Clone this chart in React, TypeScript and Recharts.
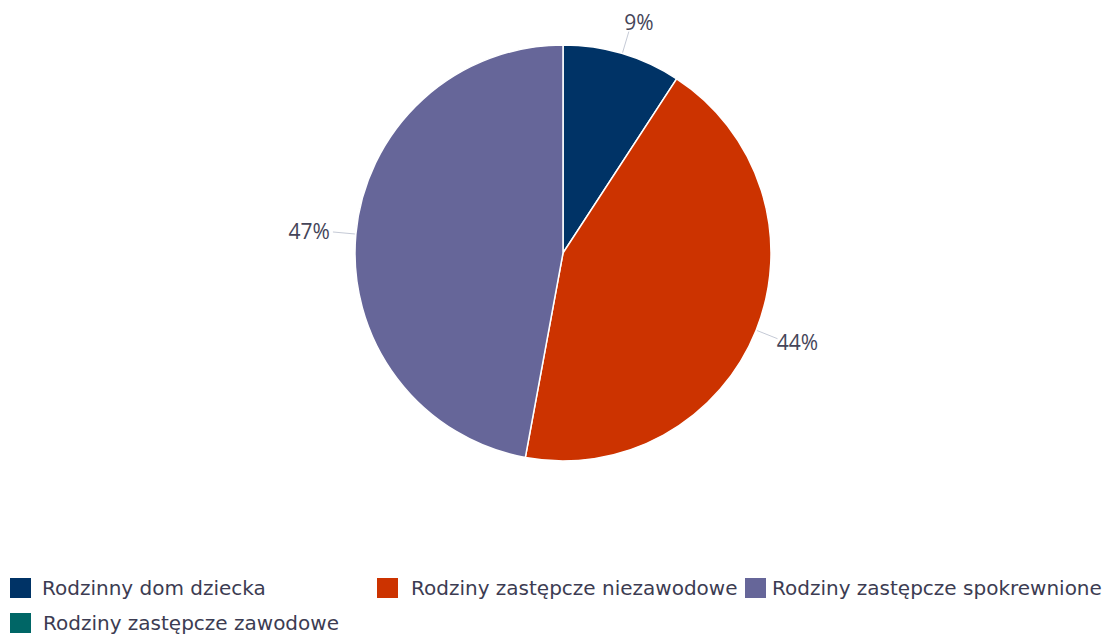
import React from "react";
import { PieChart, Pie, Cell, Legend } from "recharts";

const categories = [
  "Rodzinny dom dziecka",
  "Rodziny zastępcze niezawodowe",
  "Rodziny zastępcze spokrewnione",
  "Rodziny zastępcze zawodowe",
];
const values = [9.2, 43.7, 47.1, 0];
const colors = ["#003366", "#cc3300", "#666699", "#006666"];

const data = categories.map((name, i) => ({ name, value: values[i] }));

const RADIAN = Math.PI / 180;

const legendLayout = [
  { left: 10, top: 0, textLeft: 42 },
  { left: 377, top: 0, textLeft: 411 },
  { left: 745, top: 0, textLeft: 772 },
  { left: 10, top: 35, textLeft: 43 },
];

const renderLabel = (props: any) => {
  const { cx, cy, midAngle, outerRadius, percent, value } = props;
  if (!value) return null;
  const sx = Math.cos(-midAngle * RADIAN);
  const sy = Math.sin(-midAngle * RADIAN);
  const x1 = cx + (outerRadius + 1) * sx;
  const y1 = cy + (outerRadius + 1) * sy;
  const x2 = cx + (outerRadius + 23) * sx;
  const y2 = cy + (outerRadius + 23) * sy;
  const tx = x2 + (sx > 0 ? 0 : -3) - 5 * sy * sy;
  const ty = y2 + sy * 10;
  return (
    <g>
      <path d={`M${x1},${y1}L${x2},${y2}`} stroke="#c5cad6" strokeWidth={1} fill="none" />
      <text
        x={tx}
        y={ty}
        textAnchor={sx > 0 ? "start" : "end"}
        dominantBaseline="central"
        fill="#454559"
        fontSize={21}
        fontFamily="'Open Sans', sans-serif"
      >
        {`${Math.round(percent * 100)}%`}
      </text>
    </g>
  );
};

const renderLegend = () => (
  <div
    style={{
      position: "relative",
      width: 1104,
      height: 56,
      fontFamily: "'DejaVu Sans', sans-serif",
      fontSize: 20,
      color: "#3c3c52",
    }}
  >
    {categories.map((c, i) => {
      const l = legendLayout[i];
      return (
        <React.Fragment key={c}>
          <span
            style={{
              position: "absolute",
              left: l.left,
              top: l.top,
              width: 21,
              height: 20,
              background: colors[i],
            }}
          />
          <span
            style={{
              position: "absolute",
              left: l.textLeft,
              top: l.top,
              height: 20,
              lineHeight: "20px",
              whiteSpace: "nowrap",
            }}
          >
            {c}
          </span>
        </React.Fragment>
      );
    })}
  </div>
);

export default function App() {
  return (
    <div
      style={{
        position: "fixed",
        left: 0,
        top: 0,
        width: 1104,
        height: 637,
        background: "#fff",
        overflow: "hidden",
      }}
    >
      <PieChart width={1104} height={637} margin={{ top: 0, right: 0, bottom: 0, left: 0 }}>
        <Pie
          data={data}
          dataKey="value"
          nameKey="name"
          cx={563}
          cy={253}
          outerRadius={208}
          startAngle={90}
          endAngle={-270}
          stroke="#ffffff"
          strokeWidth={1.5}
          label={renderLabel}
          labelLine={false}
          isAnimationActive={false}
        >
          {data.map((d, i) => (
            <Cell key={d.name} fill={colors[i]} />
          ))}
        </Pie>
        <Legend
          content={renderLegend}
          wrapperStyle={{ position: "absolute", left: 0, top: 578, width: 1104, height: 56 }}
        />
      </PieChart>
    </div>
  );
}
